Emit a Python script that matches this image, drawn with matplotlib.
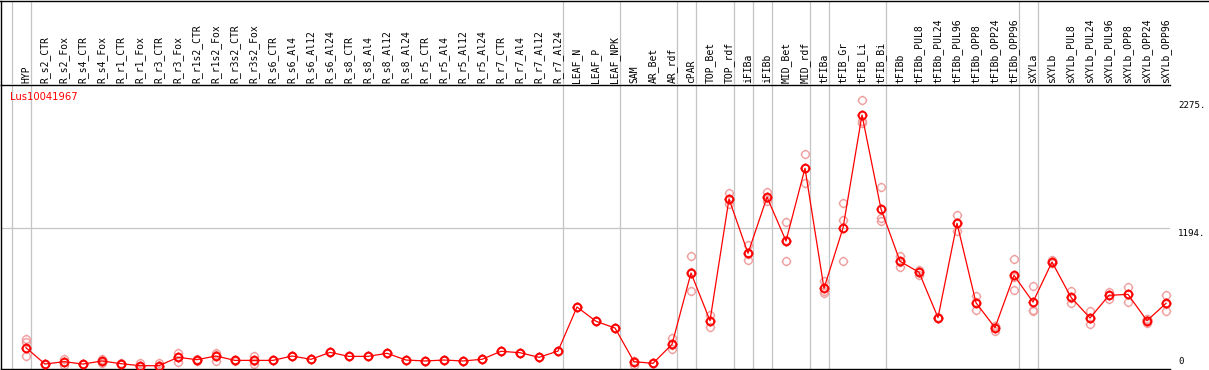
import numpy as np
import matplotlib
matplotlib.use("Agg")
import matplotlib.pyplot as plt
from matplotlib.path import Path
from matplotlib.lines import Line2D
import matplotlib.transforms as mtransforms

# ---------------- data ----------------
gene = "Lus10041967"
categories = [
    "HYP", "R_s2_CTR", "R_s2_Fox", "R_s4_CTR", "R_s4_Fox", "R_r1_CTR", "R_r1_Fox",
    "R_r3_CTR", "R_r3_Fox", "R_r1s2_CTR", "R_r1s2_Fox", "R_r3s2_CTR", "R_r3s2_Fox",
    "R_s6_CTR", "R_s6_Al4", "R_s6_Al12", "R_s6_Al24", "R_s8_CTR", "R_s8_Al4",
    "R_s8_Al12", "R_s8_Al24", "R_r5_CTR", "R_r5_Al4", "R_r5_Al12", "R_r5_Al24",
    "R_r7_CTR", "R_r7_Al4", "R_r7_Al12", "R_r7_Al24", "LEAF_N", "LEAF_P", "LEAF_NPK",
    "SAM", "AR_Bet", "AR_rdf", "cPAR", "TOP_Bet", "TOP_rdf", "iFIBa", "iFIBb",
    "MID_Bet", "MID_rdf", "tFIBa", "tFIB_Gr", "tFIB_Li", "tFIB_Bi", "tFIBb",
    "tFIBb_PUL8", "tFIBb_PUL24", "tFIBb_PUL96", "tFIBb_OPP8", "tFIBb_OPP24",
    "tFIBb_OPP96", "sXYLa", "sXYLb", "sXYLb_PUL8", "sXYLb_PUL24", "sXYLb_PUL96",
    "sXYLb_OPP8", "sXYLb_OPP24", "sXYLb_OPP96",
]
means = [
    180, 42, 62, 42, 68, 45, 28, 28, 99, 79, 110, 73, 73, 73, 110,
    82, 141, 107, 107, 133, 76, 68, 76, 68, 82, 150, 138, 99, 152,
    525, 404, 347, 62, 48, 209, 813, 409, 1440, 980, 1456, 1084, 1700,
    683, 1194, 2151, 1355, 912, 819, 435, 1234, 561, 350, 793,
    567, 906, 607, 432, 624, 632, 409, 556,
]
rep_a = [
    258, 45, 87, 42, 87, 50, 48, 51, 138, 70, 138, 73, 113, 73, 110,
    82, 141, 107, 107, 133, 76, 68, 76, 68, 82, 150, 138, 99, 152,
    525, 404, 347, 31, 48, 265, 957, 457, 1488, 1050, 1499, 1242, 1821,
    745, 1403, 2275, 1539, 960, 838, 440, 1301, 618, 324, 929,
    703, 923, 660, 489, 655, 694, 387, 627,
]
rep_b = [
    229, 40, 34, 40, 53, 42, 20, 20, 57, 85, 70, 70, 42, 73, 110,
    82, 141, 107, 107, 133, 76, 68, 76, 68, 82, 150, 138, 99, 152,
    525, 404, 347, 65, 48, 167, 658, 358, 1394, 920, 1420, 912, 1572,
    646, 1262, 2080, 1276, 866, 796, 430, 1166, 497, 360, 669,
    494, 900, 556, 378, 590, 565, 420, 489,
]
rep_c = [
    110, 42, 62, 45, 65, 45, 25, 25, 100, 80, 115, 76, 70, 73, 110,
    82, 141, 107, 107, 133, 76, 68, 76, 68, 82, 150, 138, 99, 152,
    525, 404, 347, 70, 48, 200, 820, 410, 1440, 975, 1450, 1095, 1705,
    660, 912, 2100, 1253, 910, 822, 435, 1235, 568, 366, 781,
    500, 895, 605, 430, 627, 637, 420, 552,
]
group_ends = [-1, 0, 28, 31, 34, 35, 37, 38, 39, 41, 42, 45, 52, 53, 60]
y_marks = [2275, 1194, 0]
grid_value = 1194

# ---------------- layout ----------------
W, H = 1209, 370
fig = plt.figure(figsize=(W / 100, H / 100), dpi=100)
fig.patch.set_facecolor("white")


def px_rect(x0, y0, x1, y1):
    return [x0 / W, 1 - y1 / H, (x1 - x0) / W, (y1 - y0) / H]


X0, X1 = 1, 1170
ax = fig.add_axes(px_rect(X0, 85, X1, 369))
hx = fig.add_axes(px_rect(X0, 0.5, X1, 85))

step, first = 19.0, 26.0
xlim = ((X0 - first) / step, (X1 - first) / step)
for a in (ax, hx):
    a.set_xlim(*xlim)
    a.set_xticks([])
    a.set_yticks([])
    a.set_facecolor("none")
ax.set_ylim(0, 2405)
hx.set_ylim(0, 1)

grey = "#c4c4c4"
for a in (ax, hx):
    for g in group_ends:
        a.axvline(g + 4.6 / step, color=grey, lw=0.9, zorder=0)
ax.axhline(grid_value, color=grey, lw=0.9, zorder=0)

ax.spines["right"].set_visible(False)
for s in ("left", "bottom", "top"):
    ax.spines[s].set_color("black")
    ax.spines[s].set_linewidth(1.0)
for s in ("right", "bottom", "top"):
    hx.spines[s].set_visible(False)
hx.spines["left"].set_linewidth(1.0)
fig.add_artist(Line2D([0, 1], [1 - 0.6 / H, 1 - 0.6 / H], color="black", lw=1.0,
                      transform=fig.transFigure))

# custom marker: circle with four short ticks
theta = np.linspace(0, 2 * np.pi, 41)
verts = [(np.cos(t), np.sin(t)) for t in theta]
codes = [Path.MOVETO] + [Path.LINETO] * (len(theta) - 1)
for dx, dy in ((0, 1), (0, -1), (1, 0), (-1, 0)):
    verts += [(dx * 1.0, dy * 1.0), (dx * 1.28, dy * 1.28)]
    codes += [Path.MOVETO, Path.LINETO]
tick_circle = Path(verts, codes)
msize = 7.0

x = np.arange(len(categories))
pale = "#f0a0a0"
for reps in (rep_a, rep_b, rep_c):
    ax.plot(x, reps, linestyle="none", marker=tick_circle, markersize=msize,
            markerfacecolor="none", markeredgecolor=pale, markeredgewidth=1.0,
            zorder=2, clip_on=False)
ax.plot(x, means, color="#ff0000", lw=0.9, zorder=3, clip_on=False)
ax.plot(x, means, linestyle="none", marker=tick_circle, markersize=msize,
        markerfacecolor="none", markeredgecolor="#ff0000", markeredgewidth=1.4,
        zorder=4, clip_on=False)

# category labels
trans_h = mtransforms.blended_transform_factory(hx.transData, hx.transAxes)
for i, c in enumerate(categories):
    hx.text(i, 2.0 / 84.5, c, rotation=90, ha="center", va="bottom",
            fontsize=7, family="DejaVu Sans Mono", color="black", transform=trans_h)

# gene name
fig.text(10 / W, 1 - 97.5 / H, gene, color="#ff0000", fontsize=7.2,
         family="DejaVu Sans", ha="left", va="center")

# value marks on right
xr = (1178 - first) / step
for v in y_marks:
    if v == 0:
        tr = mtransforms.offset_copy(ax.transData, fig, x=0, y=3.5, units="dots")
        ax.text(xr, v, "0", transform=tr, ha="left", va="bottom", fontsize=6.6,
                family="DejaVu Sans Mono", clip_on=False)
    else:
        tr = mtransforms.offset_copy(ax.transData, fig, x=0, y=-0.5, units="dots")
        ax.text(xr, v, f"{v}.", transform=tr, ha="left", va="top", fontsize=6.6,
                family="DejaVu Sans Mono", clip_on=False)

fig.savefig("out.png", dpi=100, facecolor="white")
